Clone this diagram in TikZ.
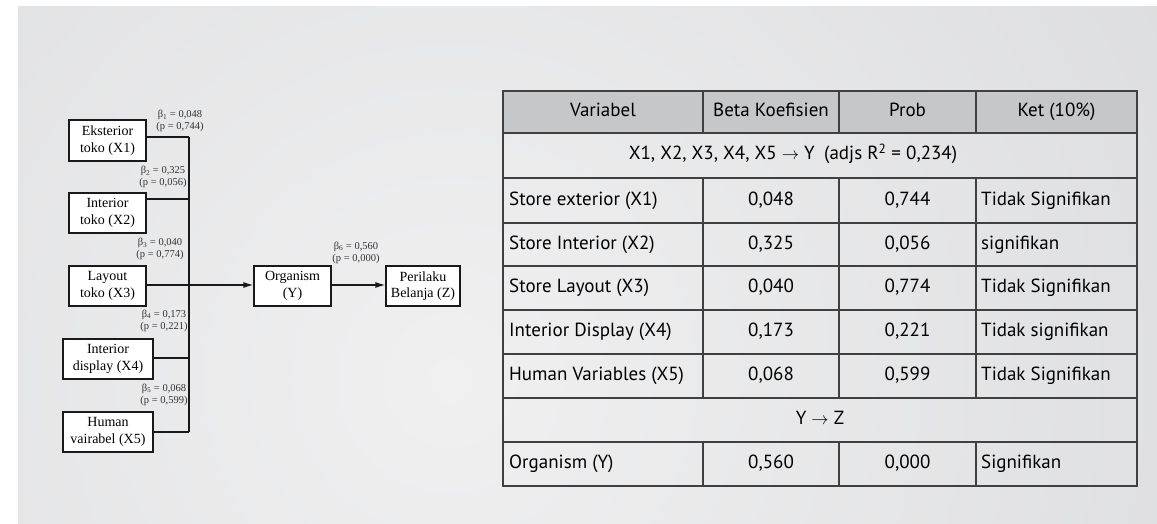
\documentclass[tikz,border=0pt]{standalone}
\usepackage{fontspec}
\setmainfont{Liberation Serif}
\newfontfamily\tabfont{PT Sans}
\usetikzlibrary{arrows.meta}

\definecolor{bgdark}{HTML}{D2D3D5}
\definecolor{bglight}{HTML}{F0F0F1}
\definecolor{headgray}{HTML}{C6C7C9}
\definecolor{rulegray}{HTML}{404040}

\tikzset{
  varbox/.style={draw=black!90, line width=1.3pt, fill=white, inner sep=0pt,
    align=center, font=\fontsize{14}{16.5}\selectfont},
  coef/.style={align=center, inner sep=0pt, text=black!80,
    font=\fontsize{10.5}{12}\selectfont},
  link/.style={line width=1.3pt, draw=black!90},
  cell/.style={inner sep=0pt, text=black, text height=13pt, text depth=4pt,
    font=\tabfont\fontsize{19}{22}\selectfont},
  rule/.style={draw=rulegray, line width=1.6pt},
}

\begin{document}
\begin{tikzpicture}[x=1pt,y=-1pt]
  \useasboundingbox (0,0) rectangle (1157,524);
  % background panel
  \begin{scope}
    \clip (18,7) rectangle (1157,524);
    \shade[inner color=bglight, outer color=bgdark] (450,380) circle (1300pt);
  \end{scope}

  % path model
  \node[varbox, minimum width=77pt, minimum height=41pt] (ext) at (107.5,140.5) {Eksterior\\toko (X1)};
  \node[varbox, minimum width=77pt, minimum height=40pt] (int) at (107.5,213) {Interior\\toko (X2)};
  \node[varbox, minimum width=77pt, minimum height=40pt] (lay) at (107.5,286) {Layout\\toko (X3)};
  \node[varbox, minimum width=90pt, minimum height=40pt] (disp) at (108,359) {Interior\\display (X4)};
  \node[varbox, minimum width=90pt, minimum height=40pt] (hum) at (108,432) {Human\\vairabel (X5)};
  \node[varbox, minimum width=77pt, minimum height=40pt] (org) at (292.5,286) {Organism\\(Y)};
  \node[varbox, minimum width=74pt, minimum height=40pt] (beh) at (423,286) {Perilaku\\Belanja (Z)};

  \coordinate (j1) at (189,137);
  \coordinate (j2) at (189,199);
  \coordinate (j3) at (189,285);
  \coordinate (j4) at (189,358);
  \coordinate (j5) at (189,432);

  \draw[link] (ext.east |- j1) -- (j1);
  \draw[link] (int.east |- j2) -- (j2);
  \draw[link] (lay.east |- j3) -- (j3);
  \draw[link] (disp.east |- j4) -- (j4);
  \draw[link] (hum.east |- j5) -- (j5);
  \draw[link] (j1) -- (j5);
  \draw[link,-{Latex[length=10pt,width=6pt]}] (j3) -- (org.west |- j3);
  \draw[link,-{Latex[length=10pt,width=6pt]}] (org.east |- j3) -- (beh.west |- j3);

  \node[coef] (beta1) at (180,121) {β\textsubscript{1} = 0,048\\(p = 0,744)};
  \node[coef] (beta2) at (163,177) {β\textsubscript{2} = 0,325\\(p = 0,056)};
  \node[coef] (beta3) at (160,249) {β\textsubscript{3} = 0,040\\(p = 0,774)};
  \node[coef] (beta4) at (164,320.5) {β\textsubscript{4} = 0,173\\(p = 0,221)};
  \node[coef] (beta5) at (164,394.5) {β\textsubscript{5} = 0,068\\(p = 0,599)};
  \node[coef] (beta6) at (356,252.5) {β\textsubscript{6} = 0,560\\(p = 0,000)};

  % results table
  \fill[headgray] (503,91) rectangle (1137,133);
  \foreach \ry in {133,178,223,266,310,354,398,442}
    \draw[rule] (503,\ry) -- (1137,\ry);
  \foreach \cx in {703,839,976} {
    \draw[rule] (\cx,91) -- (\cx,133);
    \draw[rule] (\cx,178) -- (\cx,398);
    \draw[rule] (\cx,442) -- (\cx,486);
  }
  \draw[rule] (503,91) rectangle (1137,486);

  \node[cell] (h1) at (603,112) {Variabel};
  \node[cell] (h2) at (771,112) {Beta Koefisien};
  \node[cell] (h3) at (907.5,112) {Prob};
  \node[cell] (h4) at (1056.5,112) {Ket (10\%)};
  \node[cell] (toy) at (793,155.5) {X1, X2, X3, X4, X5 $\rightarrow$ Y\enspace(adjs R\textsuperscript{2} = 0,234)};
  \node[cell] (toz) at (820,420) {Y $\rightarrow$ Z};

  \foreach \n/\ry/\va/\vb/\vc/\vd in {
      1/200.5/{Store exterior (X1)}/{0,048}/{0,744}/{Tidak Signifikan},
      2/244.5/{Store Interior (X2)}/{0,325}/{0,056}/{signifikan},
      3/288/{Store Layout (X3)}/{0,040}/{0,774}/{Tidak Signifikan},
      4/332/{Interior Display (X4)}/{0,173}/{0,221}/{Tidak signifikan},
      5/376/{Human Variables (X5)}/{0,068}/{0,599}/{Tidak Signifikan},
      6/464/{Organism (Y)}/{0,560}/{0,000}/{Signifikan}} {
    \node[cell, anchor=west] (var\n) at (509,\ry) {\va};
    \node[cell] (beta\n v) at (771,\ry) {\vb};
    \node[cell] (prob\n) at (907.5,\ry) {\vc};
    \node[cell, anchor=west] (ket\n) at (981,\ry) {\vd};
  }
\end{tikzpicture}
\end{document}
